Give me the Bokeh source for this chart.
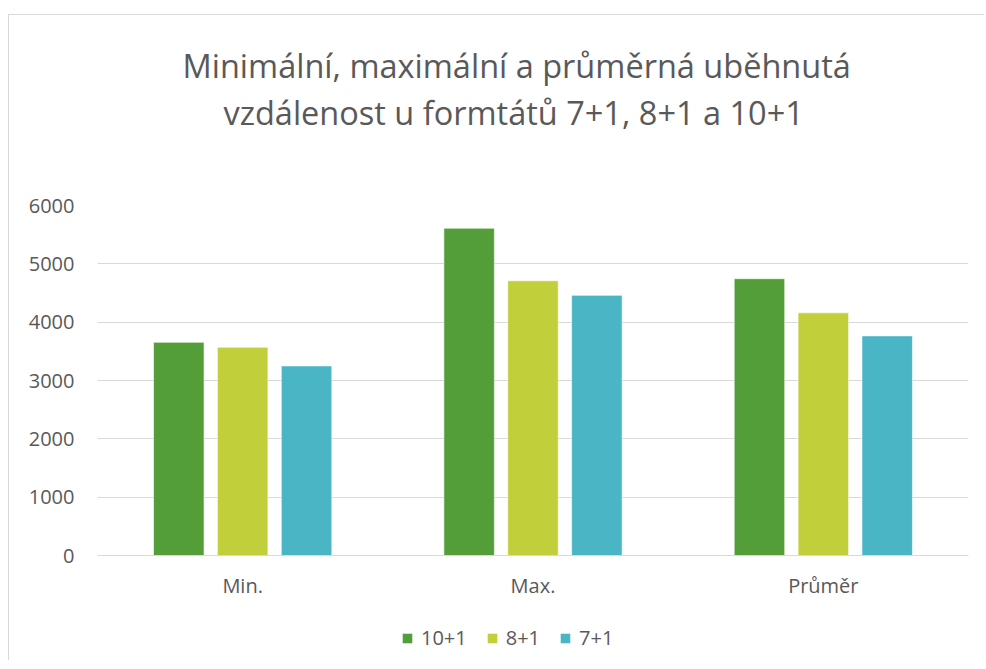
from bokeh.plotting import figure
from bokeh.layouts import column
from bokeh.models import ColumnDataSource, FactorRange, Range1d, FixedTicker, Legend, LegendItem, Title
from bokeh.transform import dodge
from bokeh.embed import file_html
from bokeh.resources import INLINE

categories = ["Min.", "Max.", "Průměr"]
series = ["10+1", "8+1", "7+1"]
v10 = [3655, 5610, 4745]
v8 = [3570, 4710, 4160]
v7 = [3250, 4460, 3765]
y_ticks = [0, 1000, 2000, 3000, 4000, 5000, 6000]
colors = ["#549E39", "#C0CF3A", "#4AB5C4"]
title_line1 = "Minimální, maximální a průměrná uběhnutá"
title_line2 = "vzdálenost u formtátů 7+1, 8+1 a 10+1"

FONT = "Open Sans"
TXT = "#595959"
GRID = "#d9d9d9"
BORDER = "1px solid #d9d9d9"

source = ColumnDataSource(dict(cat=categories, s10=v10, s8=v8, s7=v7))
cols = ["s10", "s8", "s7"]

p = figure(x_range=FactorRange(*categories), y_range=Range1d(0, 6000),
           width=976, height=593, output_backend="svg", toolbar_location=None,
           min_border_left=88, min_border_right=17, min_border_top=190, min_border_bottom=53)
p.margin = (14, 0, 0, 8)
p.styles = {"border-left": BORDER, "border-top": BORDER}

# above: spacer (closest to frame), then line 2, then line 1
p.add_layout(Title(text=" ", text_font=FONT, text_font_size="10px", standoff=55), "above")
t2 = Title(text=title_line2, align="left", offset=126, standoff=0, text_font=FONT,
           text_font_size="32.5px", text_color=TXT, text_font_style="normal")
t1 = Title(text=title_line1, align="left", offset=85, standoff=0, text_font=FONT,
           text_font_size="32.5px", text_color=TXT, text_font_style="normal")
p.add_layout(t2, "above")
p.add_layout(t1, "above")

offsets = [-0.22, 0.0, 0.22]
for c, off, col in zip(cols, offsets, colors):
    p.vbar(x=dodge("cat", off, range=p.x_range), top=c, width=0.174, source=source,
           fill_color=col, line_color="white", line_alpha=0.6, line_width=1)

p.outline_line_color = None
p.xgrid.grid_line_color = None
p.ygrid.grid_line_color = GRID
p.ygrid.grid_line_width = 1

p.yaxis.ticker = FixedTicker(ticks=y_ticks)
p.yaxis.axis_line_color = None
p.yaxis.major_tick_line_color = None
p.yaxis.minor_tick_line_color = None
p.yaxis.major_tick_in = 0
p.yaxis.major_tick_out = 0
p.yaxis.major_label_standoff = 23
p.yaxis.major_label_text_font = FONT
p.yaxis.major_label_text_font_size = "20px"
p.yaxis.major_label_text_color = TXT

p.xaxis.axis_line_color = GRID
p.xaxis.major_tick_line_color = None
p.xaxis.minor_tick_line_color = None
p.xaxis.major_tick_in = 0
p.xaxis.major_tick_out = 0
p.xaxis.major_label_standoff = 16
p.xaxis.major_label_text_font = FONT
p.xaxis.major_label_text_font_size = "20px"
p.xaxis.major_label_text_color = TXT

# legend strip: a second, axis-less figure; its bars lie far outside its visible y range,
# so only the legend swatches show
lg = figure(x_range=FactorRange(*categories), y_range=Range1d(1000000, 1000001), width=976, height=53,
            output_backend="svg", toolbar_location=None, min_border=0,
            x_axis_location=None, y_axis_location=None)
lg.margin = (0, 0, 0, 8)
lg.styles = {"border-left": BORDER}
lg.outline_line_color = None
lg.xgrid.grid_line_color = None
lg.ygrid.grid_line_color = None
swatches = [lg.vbar(x="cat", top=c, width=0.174, source=source, fill_color=col, line_color=None)
            for c, col in zip(cols, colors)]
legend = Legend(items=[LegendItem(label=s, renderers=[r]) for s, r in zip(series, swatches)],
                orientation="horizontal", location=(304, 9),
                glyph_width=12, glyph_height=12, label_standoff=8, spacing=19,
                label_text_font=FONT, label_text_font_size="20px", label_text_color=TXT,
                border_line_color=None, background_fill_color=None, padding=0, margin=0)
lg.add_layout(legend, "center")

layout = column(p, lg, spacing=0)
open("out.html", "w").write(file_html(layout, INLINE))
